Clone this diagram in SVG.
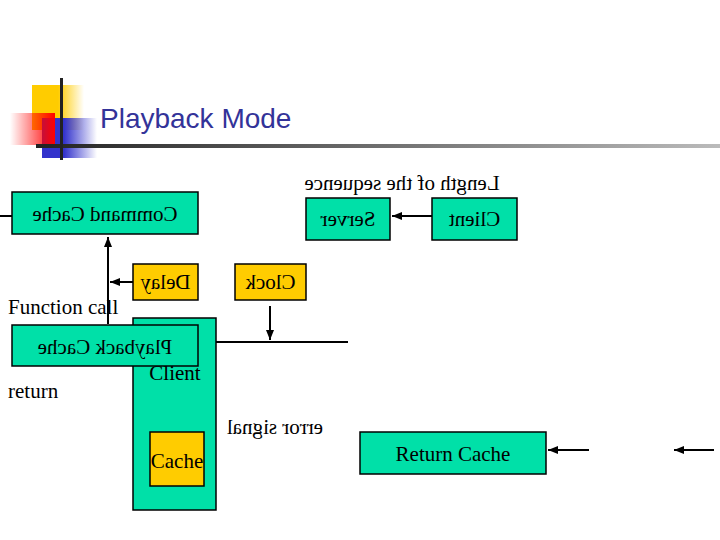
<svg xmlns="http://www.w3.org/2000/svg" width="720" height="540" viewBox="0 0 720 540">
<style>
.g{fill:#00e0a8;stroke:#000;stroke-width:1.5}
.y{fill:#ffcc00;stroke:#000;stroke-width:1.5}
.t{font-family:"Liberation Serif",serif;font-size:21px;fill:#000}
.m{text-anchor:middle}
.c{stroke:#000;stroke-width:2;fill:none}
</style>
<defs>
<marker id="a" markerWidth="6" markerHeight="6" refX="5" refY="3" orient="auto" markerUnits="strokeWidth"><path d="M0,1 L5,3 L0,5z" fill="#000"/></marker>
<linearGradient id="r" x1="1" y1="0" x2="0" y2="0"><stop offset="0" stop-color="#ff0000"/><stop offset="1" stop-color="#ff0000" stop-opacity="0"/></linearGradient>
<linearGradient id="yl" x1="0" y1="0" x2="1" y2="0"><stop offset="0.5" stop-color="#ffcc00"/><stop offset="1" stop-color="#ffcc00" stop-opacity="0"/></linearGradient>
<linearGradient id="b" x1="0" y1="0" x2="1" y2="0"><stop offset="0.4" stop-color="#3333cc"/><stop offset="1" stop-color="#3333cc" stop-opacity="0"/></linearGradient>
<linearGradient id="hl" x1="0" y1="0" x2="1" y2="0"><stop offset="0" stop-color="#222"/><stop offset="1" stop-color="#bbb"/></linearGradient>
</defs>
<g id="logo">
<rect x="32" y="85" width="52" height="45" fill="url(#yl)"/>
<rect x="42" y="118" width="55" height="40" fill="url(#b)"/>
<rect x="10" y="113" width="45" height="32" fill="url(#r)"/>
<rect x="36" y="144" width="684" height="4" fill="url(#hl)"/>
<rect x="60" y="78" width="3" height="82" fill="#222"/>
</g>
<text x="100" y="128" font-family="Liberation Sans,sans-serif" font-size="28" fill="#333399">Playback Mode</text>
<g id="connectors">
<line class="c" x1="0" y1="216" x2="12" y2="216"/>
<line class="c" x1="432" y1="216" x2="392" y2="216" marker-end="url(#a)"/>
<line class="c" x1="108" y1="324" x2="108" y2="237" marker-end="url(#a)"/>
<line class="c" x1="133" y1="282" x2="110" y2="282" marker-end="url(#a)"/>
<line class="c" x1="270" y1="306" x2="270" y2="340" marker-end="url(#a)"/>
<line class="c" x1="348" y1="342" x2="200" y2="342" marker-end="url(#a)"/>
<line class="c" x1="589" y1="450" x2="548" y2="450" marker-end="url(#a)"/>
<line class="c" x1="714" y1="450" x2="674" y2="450" marker-end="url(#a)"/>
</g>
<g id="command-cache"><rect class="g" x="12" y="192" width="186" height="42"/><text class="t m" transform="matrix(-1 0 0 1 210 0)" x="105" y="221">Command Cache</text></g>
<g id="server"><rect class="g" x="306" y="198" width="84" height="42"/><text class="t m" transform="matrix(-1 0 0 1 696 0)" x="348" y="226">Server</text></g>
<g id="client-top"><rect class="g" x="432" y="198" width="85" height="42"/><text class="t m" transform="matrix(-1 0 0 1 949 0)" x="474.5" y="226">Client</text></g>
<text class="t m" transform="matrix(-1 0 0 1 804 0)" x="402" y="190">Length of the sequence</text>
<g id="delay"><rect class="y" x="133" y="264" width="65" height="36"/><text class="t m" transform="matrix(-1 0 0 1 331 0)" x="165.5" y="289">Delay</text></g>
<g id="clock"><rect class="y" x="235" y="264" width="71" height="36"/><text class="t m" transform="matrix(-1 0 0 1 541 0)" x="270.5" y="289">Clock</text></g>
<text class="t" x="8" y="314">Function call</text>
<text class="t" x="8" y="398">return</text>
<g id="client"><rect class="g" x="133" y="318" width="83" height="192"/><text class="t m" x="175" y="380">Client</text></g>
<g id="playback-cache"><rect class="g" x="12" y="325" width="186" height="41"/><text class="t m" transform="matrix(-1 0 0 1 210 0)" x="105" y="354">Playback Cache</text></g>
<g id="cache"><rect class="y" x="150" y="432" width="54" height="54"/><text class="t m" x="177" y="468">Cache</text></g>
<text class="t m" transform="matrix(-1 0 0 1 550 0)" x="275" y="434">error signal</text>
<g id="return-cache"><rect class="g" x="360" y="432" width="186" height="42"/><text class="t m" x="453" y="461">Return Cache</text></g>
</svg>
